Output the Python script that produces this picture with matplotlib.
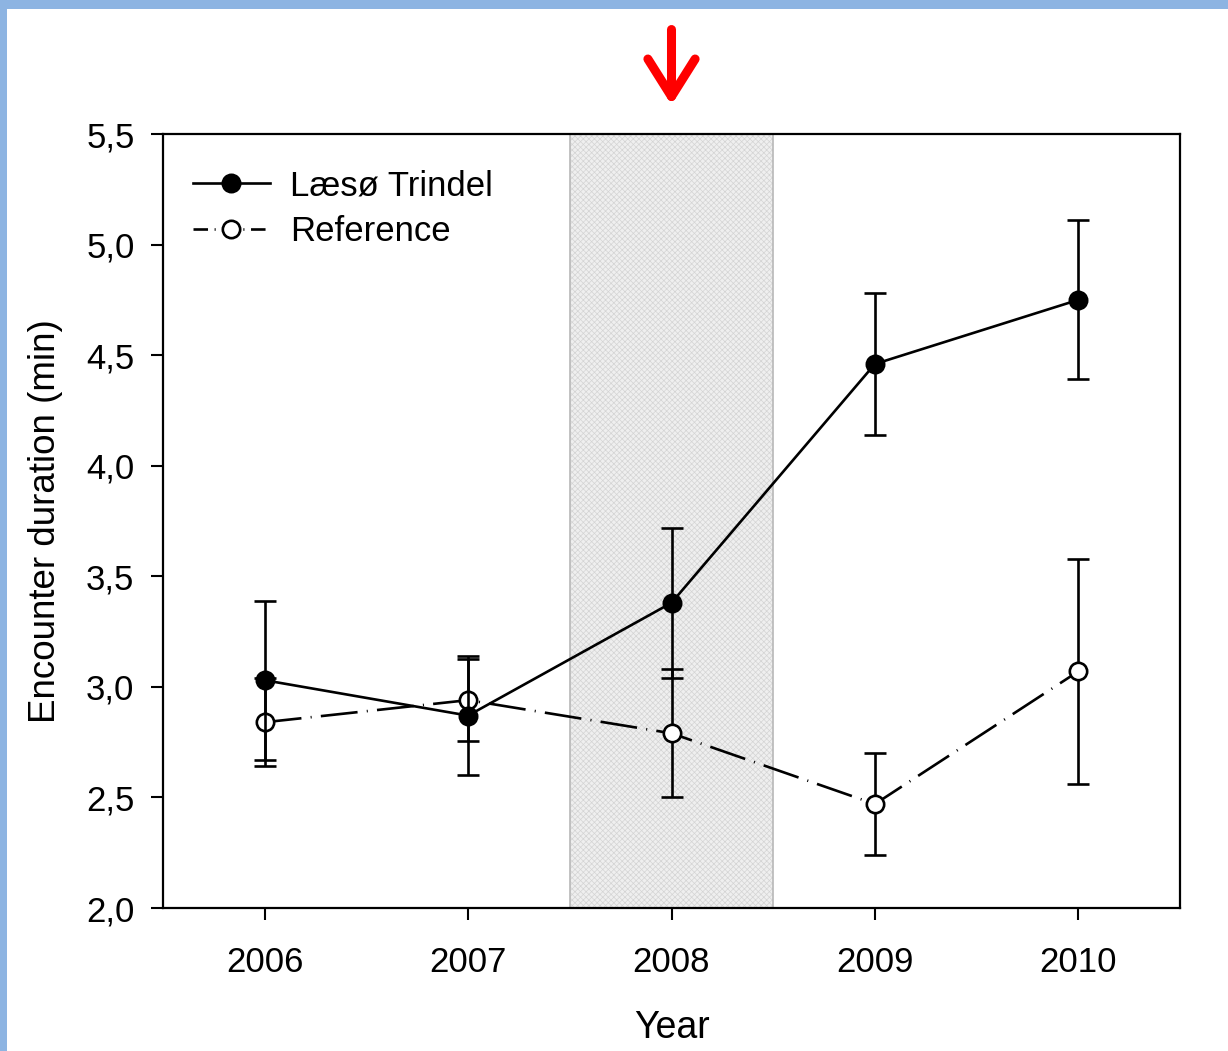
import numpy as np
import matplotlib.pyplot as plt
from matplotlib.patches import Rectangle
from matplotlib.lines import Line2D

# data
years = [2006, 2007, 2008, 2009, 2010]
laeso_mean = [3.03, 2.87, 3.38, 4.46, 4.75]
laeso_err = [0.36, 0.27, 0.34, 0.32, 0.36]
ref_mean = [2.84, 2.94, 2.79, 2.47, 3.07]
ref_err = [0.20, 0.185, 0.29, 0.23, 0.51]
yticks = [2.0, 2.5, 3.0, 3.5, 4.0, 4.5, 5.0, 5.5]
shade_span = (2007.5, 2008.5)
arrow_year = 2008

plt.rcParams['font.family'] = ['Liberation Sans', 'DejaVu Sans']
plt.rcParams['hatch.linewidth'] = 0.5

fig = plt.figure(figsize=(12.28, 10.51), dpi=100)
ax = fig.add_axes([163 / 1228, 1 - 908 / 1051, (1180 - 163) / 1228, (908 - 134) / 1051])

# shaded period, fine dotted texture
ax.axvspan(*shade_span, facecolor='#efefef', edgecolor='#d4d4d4', hatch='xxxxxx', lw=0, zorder=0)
ax.axvspan(*shade_span, facecolor='none', edgecolor='#b8b8b8', lw=1.2, zorder=0)

ref_dash = (14, 3.5, 0.4, 3.5)
lw = 1.9

# reference series (open, dashed)
ax.errorbar(years, ref_mean, yerr=ref_err, fmt='none', ecolor='black', elinewidth=lw,
            capsize=8, capthick=lw, zorder=3)
ax.plot(years, ref_mean, color='black', lw=lw, dashes=ref_dash,
        marker='o', ms=12.5, mfc='white', mec='black', mew=1.9, zorder=3)
# Læsø Trindel (filled, solid)
ax.errorbar(years, laeso_mean, yerr=laeso_err, fmt='none', ecolor='black', elinewidth=lw,
            capsize=8, capthick=lw, zorder=4)
ax.plot(years, laeso_mean, color='black', lw=lw, ls='-',
        marker='o', ms=12.5, mfc='black', mec='black', mew=1.9, zorder=4)

ax.set_xlim(2005.5, 2010.5)
ax.set_ylim(2.0, 5.5)
ax.set_xticks(years)
ax.set_xticklabels([str(y) for y in years])
ax.set_yticks(yticks)
ax.set_yticklabels([f'{v:.1f}'.replace('.', ',') for v in yticks])
ax.tick_params(direction='out', length=8.5, width=1.5, labelsize=25, top=False, right=False)
ax.tick_params(axis='x', pad=19)
ax.tick_params(axis='y', pad=12)
for s in ax.spines.values():
    s.set_linewidth(1.6)

ax.set_xlabel('Year', fontsize=27, labelpad=22)
ax.set_ylabel('Encounter duration (min)', fontsize=26.5, labelpad=17)

handles = [
    Line2D([], [], color='black', lw=lw, marker='o', ms=12.5, mfc='black', mec='black', mew=1.9),
    Line2D([], [], color='black', lw=lw, dashes=(5.5, 2.5, 0.4, 2.5), marker='o', ms=12.5,
           mfc='white', mec='black', mew=1.9),
]
ax.legend(handles, ['Læsø Trindel', 'Reference'], loc='upper left', frameon=False, fontsize=25,
          handlelength=2.2, handletextpad=0.58, labelspacing=0.36,
          borderaxespad=0.0, bbox_to_anchor=(0.016, 0.972))

# red arrow above the axes
ax.annotate('', xy=(arrow_year, 1.0375), xycoords=('data', 'axes fraction'),
            xytext=(arrow_year, 1.135), textcoords=('data', 'axes fraction'),
            annotation_clip=False,
            arrowprops=dict(arrowstyle='->, head_length=1.35, head_width=0.85', color='red',
                            lw=6.5, mutation_scale=20, shrinkA=0, shrinkB=0,
                            capstyle='round', joinstyle='round'))

# light blue frame on top and left
fig.patches.append(Rectangle((0, 1 - 9 / 1051), 1, 9 / 1051, transform=fig.transFigure,
                             facecolor='#8db4e2', edgecolor='none'))
fig.patches.append(Rectangle((0, 0), 7 / 1228, 1, transform=fig.transFigure,
                             facecolor='#8db4e2', edgecolor='none'))

fig.savefig('out.png', dpi=100)
